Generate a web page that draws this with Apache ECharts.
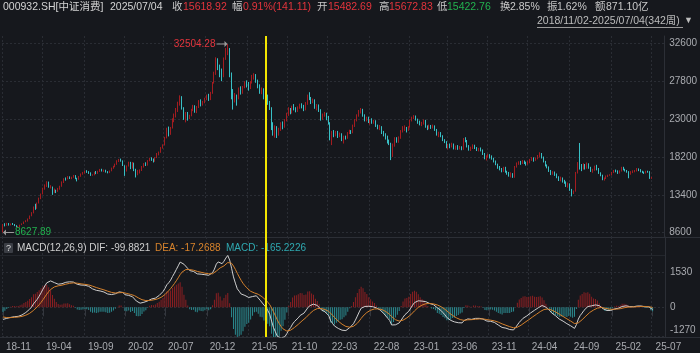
<!DOCTYPE html>
<html><head><meta charset="utf-8">
<script src="https://cdn.jsdelivr.net/npm/echarts@6/dist/echarts.min.js"></script>
<style>html,body{margin:0;padding:0;background:#16181d;}#c{width:700px;height:353px;}</style>
</head><body><div id="c"></div>
<script>
// ---------- DATA ----------
const firstWeek = '2018-11-02', lastWeek = '2025-07-04';
const closedWeeks = ['2019-02-08','2020-01-31','2022-02-04','2022-10-07','2023-01-27','2023-10-06','2024-02-16'];
const xTickLabels = ['18-11','19-04','19-09','20-02','20-07','20-12','21-05','21-10','22-03','22-08','23-01','23-06','23-11','24-04','24-09','25-02','25-07'];
const priceTicks = [8600,13400,18200,23000,27800,32600];
const macdTicks = [-1270,0,1530];
const markerWeek = '2021-07-09';
// [open, close, low, high]
const k2018 = [[9280,9640,8627.89,9700],[9640,9520,9400,9800],[9520,9780,9480,9850],[9780,9560,9500,9820],[9560,9720,9520,9760],[9720,9650,9580,9830],[9650,9480,9430,9700],[9480,9380,9300,9550],[9380,9420,9280,9460]];
const k2019 = [[9420,9590,9240,9620],[9590,9720,9560,9780],[9720,9980,9700,10020],[9980,10120,9930,10180],[10120,10350,10010,10400],[10350,10720,10320,10780],[10720,11080,10680,11200],[11080,11860,11050,11920],[11860,11650,11500,12260],[11650,12360,11620,12420],[12360,12880,12300,13050],[12880,13480,12850,13560],[13480,14190,13450,14300],[14190,14520,14050,14720],[14520,14910,14400,15120],[14910,14380,14300,15080],[14380,14450,14200,14620],[14450,13780,13400,14450],[13780,13920,13650,14200],[13920,13850,13620,14050],[13850,14120,13780,14280],[14120,14480,14050,14550],[14480,14950,14420,15100],[14950,15420,14900,15500],[15420,15380,15200,15600],[15380,15680,15350,15780],[15680,15520,15400,15740],[15520,15610,15380,15690],[15610,15840,15560,15920],[15840,15450,15380,15900],[15450,15380,15100,15560],[15380,15720,15300,15780],[15720,16020,15680,16100],[16020,16150,15950,16300],[16150,16380,16100,16480],[16380,16290,16180,16520],[16290,16180,16050,16400],[16180,15880,15800,16250],[15880,15940,15820,16000],[15940,16260,15870,16320],[16260,16120,16020,16420],[16120,16350,16050,16450],[16350,16580,16300,16680],[16580,16420,16350,16700],[16420,16520,16300,16600],[16520,16310,16220,16580],[16310,16180,16120,16400],[16180,16420,16150,16480],[16420,16790,16380,16850],[16790,16950,16700,17080],[16950,17280,16900,17350]];
const k2020 = [[17280,17650,17200,17780],[17650,17820,17550,17950],[17820,17700,17600,17990],[17700,17150,17050,17760],[17150,16420,15800,17150],[16420,17050,16350,17130],[17050,17460,16980,17600],[17460,16780,16650,17580],[16780,17420,16720,17560],[17420,16580,16400,17480],[16580,15920,15600,16700],[15920,16350,15880,16560],[16350,16480,16100,16620],[16480,16960,16420,17050],[16960,17340,16850,17420],[17340,17180,17050,17520],[17180,17720,17100,17800],[17720,17980,17650,18100],[17980,17860,17700,18150],[17860,17640,17500,18000],[17640,18120,17580,18200],[18120,18560,18050,18700],[18560,18780,18400,18880],[18780,19350,18720,19450],[19350,19680,19250,19800],[19680,20650,19650,20750],[20650,21480,20550,21900],[21480,21120,20800,22050],[21120,21860,21000,22000],[21860,22940,21800,23100],[22940,23380,22600,23700],[23380,24160,23200,24400],[24160,24850,23900,25200],[24850,25620,24700,26010],[25620,24380,24200,25900],[24380,23260,22900,24500],[23260,23720,22580,23900],[23720,23140,22800,23900],[23140,23410,23000,23550],[23410,24120,23350,24300],[24120,24580,24000,24800],[24580,24030,23800,24750],[24030,24450,23750,24650],[24450,25260,24400,25400],[25260,24880,24600,25500],[24880,25120,24700,25300],[25120,25560,25000,25700],[25560,25980,25400,26100],[25980,25480,25300,26200],[25480,26280,25400,26450],[26280,27550,26200,27700]];
const k2021 = [[27550,28860,27500,29000],[28860,30280,28600,30830],[30280,29580,29200,30700],[29580,28640,28300,29900],[28640,28450,27800,29400],[28450,30620,28300,30800],[30620,31640,30500,32000],[31640,31980,31100,32504.28],[31980,28650,28300,32000],[28650,26420,25500,28900],[26420,25380,24200,26800],[25380,25890,25100,26300],[25890,25620,24700,26100],[25620,26850,25500,27000],[26850,26480,26100,27150],[26480,27060,26200,27200],[27060,27580,26900,27800],[27580,27350,27000,27900],[27350,26980,26600,27700],[26980,27640,26800,27800],[27640,28180,27500,28600],[28180,28520,28000,28810],[28520,27860,27600,28700],[27860,27160,26900,28000],[27160,26440,26200,27400],[26440,26820,26150,27000],[26820,25720,25500,26900],[25720,25980,25300,26300],[25980,25060,24800,26100],[25060,24450,24150,25300],[24450,22150,21600,24500],[22150,21480,20900,22600],[21480,21820,20650,22200],[21820,21060,20600,22100],[21060,21700,20900,21900],[21700,22380,21500,22600],[22380,22100,21700,22700],[22100,22860,21900,23000],[22860,23640,22700,23800],[23640,24180,23400,24500],[24180,23820,23600,24400],[23820,24560,23700,24700],[24560,24320,24100,24900],[24320,24060,23850,24500],[24060,24410,23900,24600],[24410,24780,24300,24950],[24780,24560,24350,25000],[24560,24240,24000,24800],[24240,24920,24100,25150],[24920,25950,24800,26100],[25950,25680,25400,26400],[25680,25120,24900,25800],[25120,25350,25000,25600]];
const k2022 = [[25350,24480,24300,25500],[24480,24650,24100,24900],[24650,24180,23900,24850],[24180,23040,22800,24250],[23040,23560,22900,23700],[23560,23720,23300,23900],[23720,23250,22850,23800],[23250,22480,22300,23400],[22480,20600,20300,22600],[20600,21300,19700,21500],[21300,20950,20700,21600],[20950,21350,20800,21500],[21350,20880,20600,21500],[20880,21120,20700,21300],[21120,20450,20200,21200],[20450,20780,19900,20900],[20780,20620,20400,20900],[20620,21240,20500,21350],[21240,21480,21100,21650],[21480,21320,21100,21600],[21320,22140,21200,22300],[22140,22860,22000,23000],[22860,23450,22700,23600],[23450,23980,23300,24150],[23980,24150,23700,24400],[24150,23460,23300,24300],[23460,22840,22700,23600],[22840,23120,22700,23300],[23120,22640,22500,23300],[22640,22880,22300,23000],[22880,22560,22400,23100],[22560,22720,22400,22900],[22720,22160,22000,22850],[22160,21880,21700,22300],[21880,22050,21600,22250],[22050,21280,21100,22100],[21280,21050,20800,21500],[21050,20580,20400,21200],[20580,20230,19900,20900],[20230,19950,19700,20400],[19950,18350,17800,20000],[18350,19720,18200,19900],[19720,20480,19500,20700],[20480,20260,20000,20700],[20260,20650,20000,20800],[20650,21480,20500,21600],[21480,21860,21300,22100],[21860,21940,21500,22200],[21940,21580,21300,22000],[21580,22010,21500,22100]];
const k2023 = [[22010,22820,21900,22950],[22820,23160,22700,23300],[23160,23280,23000,23500],[23280,22960,22800,23450],[22960,22640,22400,23050],[22640,22340,22200,22800],[22340,22480,22100,22650],[22480,22810,22300,22950],[22810,22040,21900,22900],[22040,21860,21600,22200],[21860,22120,21700,22300],[22120,21950,21750,22250],[21950,22060,21800,22300],[22060,21680,21500,22200],[21680,21020,20900,21750],[21020,21250,20700,21400],[21250,20860,20700,21350],[20860,20340,20200,20950],[20340,20100,19950,20450],[20100,19480,19300,20200],[19480,19720,19150,19850],[19720,19560,19300,19900],[19560,19820,19400,20000],[19820,19310,19150,19900],[19310,19540,19100,19650],[19540,19280,19100,19700],[19280,19460,19150,19600],[19460,19180,19050,19550],[19180,20450,19100,20600],[20450,20280,20050,20700],[20280,19560,19400,20350],[19560,19180,19000,19700],[19180,19320,18950,19500],[19320,19650,19200,19800],[19650,19380,19200,19750],[19380,19100,18950,19450],[19100,19240,18900,19350],[19240,19050,18900,19400],[19050,18620,18450,19150],[18620,18050,17900,18700],[18050,18280,17750,18400],[18280,18450,18100,18600],[18450,18200,18000,18550],[18200,18020,17850,18400],[18020,17640,17500,18100],[17640,17280,17150,17750],[17280,16880,16700,17350],[16880,16740,16500,17050],[16740,16420,16250,16800],[16420,16860,16300,16950]];
const k2024 = [[16860,16320,16200,16950],[16320,16150,15950,16450],[16150,15880,15700,16300],[15880,16020,15600,16250],[16020,15720,15550,16150],[15720,16950,15560,17050],[16950,17380,16850,17500],[17380,17520,17200,17650],[17520,17380,17200,17700],[17380,17640,17300,17800],[17640,17450,17300,17750],[17450,17280,17100,17600],[17280,17560,17200,17700],[17560,17820,17400,17950],[17820,18050,17700,18200],[18050,17760,17600,18150],[17760,17980,17700,18100],[17980,18260,17900,18450],[18260,18580,18150,18800],[18580,18190,18000,18700],[18190,17640,17500,18250],[17640,17180,17000,17700],[17180,16920,16750,17250],[16920,16480,16300,17000],[16480,16050,15900,16550],[16050,16260,15950,16400],[16260,15980,15800,16350],[15980,15680,15500,16100],[15680,15320,15150,15750],[15320,15560,15100,15700],[15560,15140,14950,15600],[15140,15020,14800,15300],[15020,14560,14400,15100],[14560,14780,14300,14950],[14780,14060,13900,14850],[14060,13620,13200,14150],[13620,13850,13500,13950],[13850,16120,13800,16300],[16120,17480,16100,17550],[17480,16950,16600,19970],[16950,16720,16400,17300],[16720,17150,16600,17400],[17150,16780,16600,17300],[16780,17320,16700,17500],[17320,16850,16700,17400],[16850,16420,16300,16950],[16420,16580,16200,16700],[16580,16920,16450,17100],[16920,16680,16500,17200],[16680,16150,16050,16800],[16150,15900,15750,16250]];
const k2025 = [[15900,15380,15250,15950],[15380,15450,15200,15600],[15450,15750,15400,15850],[15750,15880,15650,15950],[15880,15960,15820,16000],[15960,16240,15850,16300],[16240,16450,16150,16550],[16450,16380,16250,16600],[16380,16150,16050,16500],[16150,16420,16100,16500],[16420,16850,16350,16950],[16850,16620,16500,16950],[16620,16480,16350,16700],[16480,16350,16200,16550],[16350,16060,15500,16400],[16060,16280,15950,16400],[16280,16360,16150,16500],[16360,16420,16250,16550],[16420,16680,16350,16800],[16680,16520,16400,16750],[16520,16380,16250,16650],[16380,16290,16150,16450],[16290,16150,16050,16350],[16150,16380,16100,16450],[16380,16320,16200,16450],[16320,15477.81,15420,16400],[15482.69,15618.92,15422.76,15672.83]];
// EMA state carried in from before the first bar (read from the starting DIF/DEA level)
const macdSeed = { ema12: 9950, ema26: 10500, dea: -400 };

// ---------- BUILD ----------
const cats = [];
for (let t = Date.parse(firstWeek + 'T00:00:00Z'); t <= Date.parse(lastWeek + 'T00:00:00Z'); t += 7 * 86400000) {
  const s = new Date(t).toISOString().slice(0, 10);
  if (closedWeeks.indexOf(s) < 0) cats.push(s);
}
const kline = [].concat(k2018, k2019, k2020, k2021, k2022, k2023, k2024, k2025);
const closes = kline.map(r => r[1]);
const dif = [], dea = [], hist = [];
(function () {
  let e12 = macdSeed.ema12, e26 = macdSeed.ema26, d = macdSeed.dea;
  closes.forEach(c => {
    e12 = e12 * 11 / 13 + c * 2 / 13;
    e26 = e26 * 25 / 27 + c * 2 / 27;
    const df = e12 - e26;
    d = d * 0.8 + df * 0.2;
    dif.push(+df.toFixed(2)); dea.push(+d.toFixed(2)); hist.push(+(2 * (df - d)).toFixed(2));
  });
})();

const ym = s => (s ? s.slice(2, 7) : '');
function isTick(i) {
  const c = cats[i];
  if (!c) return false;
  const k = ym(c);
  if (i > 0 && ym(cats[i - 1]) === k) return false;
  return xTickLabels.indexOf(k) >= 0;
}
const tickFn = (idx) => isTick(idx);

const F = "'Liberation Sans','Noto Sans CJK SC',sans-serif";
const RED = '#e3343c', GREEN = '#22b24f', GRAY = '#c9c9c9';
const UP = '#a31c20', DOWN = '#38bfc5';
const GRIDC = '#2a2d34';

const header = [
  [3, '000932.SH[中证消费]', '#d4d4d4'], [110, '2025/07/04', '#d4d4d4'],
  [172, '收', GRAY], [183, '15618.92', RED],
  [232, '幅', GRAY], [243, '0.91%(141.11)', RED],
  [317, '开', GRAY], [328, '15482.69', RED],
  [379, '高', GRAY], [389, '15672.83', RED],
  [437, '低', GRAY], [447, '15422.76', GREEN],
  [500, '换', GRAY], [510, '2.85%', GRAY],
  [547, '振', GRAY], [557, '1.62%', GRAY],
  [595, '额', GRAY], [606, '871.10亿', GRAY]
];
const txt = (x, y, t, c, size) => ({ type: 'text', x: x, y: y, z: 1, silent: true,
  style: { text: t, fill: c, font: (size || 10.5) + 'px ' + F, verticalAlign: 'middle', align: 'left' } });
const hline = (x1, x2, y, c) => ({ type: 'line', z: 0, silent: true, shape: { x1: x1, y1: y, x2: x2, y2: y }, style: { stroke: c || GRIDC, lineWidth: 1 } });

const graphic = header.map(h => txt(h[0], 7, h[1], h[2]))
  .concat([
    txt(537, 21, '2018/11/02-2025/07/04(342周)', '#bdbdbd'),
    txt(684, 21, '▼', '#bdbdbd', 9),
    hline(537, 683, 27.5, '#9a9a9a'),
    hline(0, 700, 237.5, '#2c2f36'),
    hline(0, 665, 255.5, '#23262c'),
    hline(0, 700, 337.5, '#2c2f36'),
    { type: 'rect', z: 1, silent: true, shape: { x: 4, y: 243, width: 9, height: 10, r: 1 }, style: { fill: '#3b3e45' } },
    txt(6, 248.5, '?', '#d8d8d8', 9),
    txt(17, 248.5, 'MACD(12,26,9) DIF: -99.8821', '#cfcfcf', 10),
    txt(155, 248.5, 'DEA: -17.2688', '#d7832c', 10),
    txt(226, 248.5, 'MACD: -165.2226', '#2fa9b1', 10)
  ]);

const arrowR = 'path://M0,2.6 L8,2.6 L8,0.6 L11,3 L8,5.4 L8,3.4 L0,3.4 Z';
const arrowL = 'path://M11,2.6 L3,2.6 L3,0.6 L0,3 L3,5.4 L3,3.4 L11,3.4 Z';

const yellow = { silent: true, symbol: ['none', 'none'], label: { show: false },
  lineStyle: { color: '#f3e500', width: 2, type: 'solid', opacity: 1 }, emphasis: { disabled: true },
  data: [{ xAxis: markerWeek }] };

const option = {
  backgroundColor: '#16181d',
  animation: false,
  textStyle: { fontFamily: F },
  graphic: graphic,
  grid: [
    { left: 2, right: 35, top: 36, height: 201 },
    { left: 2, right: 35, top: 237, height: 100 }
  ],
  xAxis: [
    { type: 'category', gridIndex: 0, data: cats, max: 347, boundaryGap: true,
      axisLine: { show: false }, axisTick: { show: false }, axisLabel: { show: false },
      splitLine: { show: true, interval: tickFn, lineStyle: { color: GRIDC, type: [2, 2] } } },
    { type: 'category', gridIndex: 1, data: cats, max: 347, boundaryGap: true,
      axisLine: { show: false },
      axisTick: { show: true, interval: tickFn, alignWithLabel: true, length: 9, lineStyle: { color: '#34373e' } },
      axisLabel: { interval: tickFn, formatter: v => ym(v), align: 'left', color: '#a9abb0', fontSize: 10, margin: 5, padding: [0, 0, 0, 3] },
      splitLine: { show: true, interval: tickFn, lineStyle: { color: GRIDC, type: [2, 2] } } }
  ],
  yAxis: [
    { type: 'value', gridIndex: 0, position: 'right', min: 8055, max: 33525,
      axisLine: { show: true, lineStyle: { color: '#2c2f36' } },
      axisTick: { show: false, customValues: priceTicks },
      axisLabel: { customValues: priceTicks, color: '#a9abb0', fontSize: 10, margin: 5, formatter: v => String(v) },
      splitLine: { show: true, lineStyle: { color: GRIDC, type: [2, 2] } } },
    { type: 'value', gridIndex: 1, position: 'right', min: -1313, max: 3107,
      axisLine: { show: true, lineStyle: { color: '#2c2f36' } },
      axisTick: { show: false, customValues: macdTicks },
      axisLabel: { customValues: macdTicks, color: '#a9abb0', fontSize: 10, margin: 5,
        formatter: v => (v === macdTicks[0] ? '{lo|' + v + '}' : String(v)),
        rich: { lo: { padding: [0, 0, 12, 0], color: '#a9abb0', fontSize: 10 } } },
      splitLine: { show: true, lineStyle: { color: GRIDC, type: [2, 2] } } }
  ],
  series: [
    { type: 'candlestick', xAxisIndex: 0, yAxisIndex: 0, data: kline, barWidth: 1.2, z: 3,
      itemStyle: { color: UP, color0: DOWN, borderColor: UP, borderColor0: DOWN, borderWidth: 1 },
      markPoint: {
        silent: true, animation: false,
        data: [
          { type: 'max', valueDim: 'highest', symbol: arrowR, symbolSize: [11, 6], symbolOffset: [-5.5, 0],
            itemStyle: { color: '#9c9c9c' },
            label: { show: true, position: 'left', distance: 1, color: RED, fontSize: 10, fontFamily: F, formatter: p => Number(p.value).toFixed(2) } },
          { type: 'min', valueDim: 'lowest', symbol: arrowL, symbolSize: [11, 6], symbolOffset: [5.5, 0],
            itemStyle: { color: '#9c9c9c' },
            label: { show: true, position: 'right', distance: 1, color: GREEN, fontSize: 10, fontFamily: F, formatter: p => Number(p.value).toFixed(2) } }
        ]
      },
      markLine: yellow },
    { type: 'bar', name: 'MACD', xAxisIndex: 1, yAxisIndex: 1, data: hist, barWidth: 1, z: 2,
      itemStyle: { color: p => (p.value >= 0 ? '#8c1f22' : '#2b8a8f') } },
    { type: 'line', name: 'DIF', xAxisIndex: 1, yAxisIndex: 1, data: dif, showSymbol: false, z: 3,
      lineStyle: { color: '#cfcfcf', width: 1 } },
    { type: 'line', name: 'DEA', xAxisIndex: 1, yAxisIndex: 1, data: dea, showSymbol: false, z: 4,
      lineStyle: { color: '#d5812c', width: 1 }, markLine: yellow }
  ]
};
const chart = echarts.init(document.getElementById('c'), null, { renderer: 'canvas' });
chart.setOption(option);
</script></body></html>
